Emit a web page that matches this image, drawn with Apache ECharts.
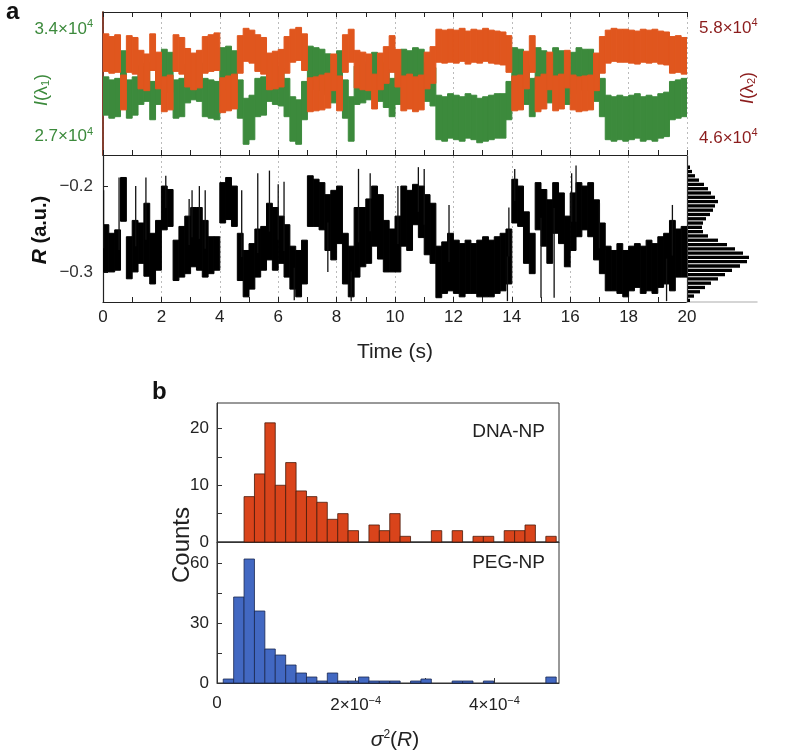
<!DOCTYPE html>
<html>
<head>
<meta charset="utf-8">
<script src="https://cdn.jsdelivr.net/npm/echarts@6/dist/echarts.min.js"></script>
<style>html,body{margin:0;padding:0;background:#fff}#main{width:786px;height:755px}</style>
</head>
<body>
<div id="main"></div>
<script>
// time traces, one value pair per 0.2 s bin (band top / band bottom)
var binStep = 0.2;
var rHi = [
-0.245,-0.255,-0.251,-0.190,-0.259,-0.240,-0.243,-0.220,-0.255,-0.240,
-0.200,-0.204,-0.263,-0.247,-0.235,-0.225,-0.225,-0.240,-0.259,-0.259,
-0.196,-0.190,-0.200,-0.255,-0.275,-0.267,-0.250,-0.247,-0.220,-0.225,
-0.235,-0.245,-0.270,-0.275,-0.263,-0.188,-0.192,-0.196,-0.210,-0.205,
-0.200,-0.255,-0.270,-0.225,-0.225,-0.215,-0.200,-0.210,-0.240,-0.250,
-0.235,-0.200,-0.205,-0.198,-0.200,-0.210,-0.220,-0.270,-0.265,-0.255,
-0.263,-0.267,-0.263,-0.267,-0.263,-0.259,-0.263,-0.259,-0.255,-0.250,
-0.192,-0.200,-0.230,-0.255,-0.196,-0.204,-0.216,-0.196,-0.208,-0.235,
-0.208,-0.196,-0.200,-0.196,-0.216,-0.243,-0.270,-0.275,-0.267,-0.275,
-0.270,-0.267,-0.270,-0.263,-0.267,-0.259,-0.255,-0.240,-0.250,-0.247];
var rLo = [
-0.300,-0.300,-0.298,-0.241,-0.308,-0.300,-0.290,-0.305,-0.314,-0.298,
-0.251,-0.247,-0.310,-0.306,-0.302,-0.294,-0.298,-0.306,-0.302,-0.298,
-0.243,-0.239,-0.247,-0.310,-0.329,-0.320,-0.306,-0.298,-0.286,-0.298,
-0.290,-0.306,-0.320,-0.329,-0.314,-0.247,-0.247,-0.251,-0.275,-0.286,
-0.267,-0.314,-0.329,-0.306,-0.294,-0.290,-0.270,-0.285,-0.300,-0.300,
-0.300,-0.270,-0.275,-0.245,-0.260,-0.280,-0.290,-0.330,-0.325,-0.322,
-0.325,-0.329,-0.325,-0.325,-0.329,-0.329,-0.329,-0.325,-0.322,-0.314,
-0.243,-0.247,-0.290,-0.302,-0.251,-0.270,-0.290,-0.255,-0.267,-0.294,
-0.275,-0.259,-0.251,-0.259,-0.286,-0.302,-0.322,-0.322,-0.325,-0.329,
-0.322,-0.318,-0.325,-0.322,-0.325,-0.318,-0.314,-0.322,-0.306,-0.306];
var rSpikes = [
[0.02,-0.205],[0.55,-0.19],[1.12,-0.2],[1.47,-0.19],[2.15,-0.188],[2.95,-0.215],
[3.05,-0.205],[3.3,-0.2],[3.5,-0.205],[4.75,-0.205],[5.3,-0.185],[5.7,-0.182],
[6.0,-0.198],[6.2,-0.195],[6.55,-0.333],[7.7,-0.3],[8.5,-0.334],[8.75,-0.18],
[9.15,-0.185],[10.1,-0.2],[10.8,-0.178],[11.0,-0.18],[11.85,-0.222],[13.9,-0.225],
[14.1,-0.18],[15.0,-0.33],[15.45,-0.33],[16.2,-0.176],[16.05,-0.185],[17.0,-0.22],
[19.5,-0.222],[19.3,-0.334],[13.85,-0.334]];
var oHi = [
57400,57100,57300,52900,57200,57000,55600,55200,57400,55400,
52700,52900,57300,57000,55800,55300,55600,57100,57300,57500,
52600,52800,53000,57200,58000,57800,57300,57000,55300,55500,
55700,57100,57900,58100,57400,52600,52700,52900,53100,55200,
52800,57300,57900,55600,55400,55200,53000,55300,56000,57200,
55700,52800,53000,52700,52900,55400,56000,57900,57800,57900,
57800,58000,57700,57900,57800,58000,57800,57700,57600,57200,
52800,52900,55500,57200,52700,53000,55400,52800,53000,55600,
52900,52700,52800,52900,55300,57100,57800,58000,57900,57900,
57800,57700,57900,57800,57900,57700,57600,57100,57200,57000];
var oLo = [
53300,53100,53200,49100,53200,53000,51400,51200,53400,51400,
48900,49100,53300,53000,51600,51300,51500,53100,53300,53400,
48800,49000,49200,53100,54400,54200,53300,53000,51300,51400,
51600,53100,54300,54500,53400,48900,49000,49100,49300,51200,
49000,53200,54300,51500,51300,51200,49200,51300,52000,53200,
51600,49000,49200,48900,49100,51400,52000,54300,54200,54300,
54200,54400,54100,54300,54200,54400,54200,54100,54000,53200,
49000,49100,51400,53200,48900,49200,51300,49000,49200,51500,
49100,48900,49000,49100,51200,53100,54200,54400,54300,54300,
54200,54100,54300,54200,54300,54100,54000,53100,53200,53000];
var gHi = [
30900,30700,30800,32600,30700,30900,31600,31800,30600,31600,
32700,32500,30700,30800,31700,31900,31800,30800,30700,30600,
32800,32900,32600,30700,29500,29700,30800,30900,31800,31600,
31500,30800,29600,29400,30600,32900,32800,32700,32400,31700,
32600,30700,29600,31600,31700,31900,32500,31800,31400,30800,
31600,32700,32600,32800,32700,31800,31500,29700,29600,29800,
29700,29600,29800,29700,29500,29600,29700,29800,29800,30600,
32800,32700,31600,30800,32800,32600,31700,32800,32600,31600,
32500,32800,32700,32700,31800,30800,29700,29600,29700,29600,
29700,29800,29600,29700,29600,29800,29900,30600,30700,30800];
var gLo = [
28400,28200,28300,30000,28200,28400,29100,29300,28100,29100,
30000,29900,28200,28300,29200,29400,29300,28300,28200,28100,
30100,30200,29900,28200,26500,26800,28300,28400,29300,29100,
29000,28300,26700,26500,28100,30200,30100,30000,29700,29200,
29900,28200,26700,29100,29200,29400,29800,29300,28900,28300,
29100,30000,29900,30100,30000,29300,29000,26800,26700,26900,
26800,26700,26900,26800,26600,26700,26800,26900,26900,28100,
30100,30000,29100,28300,30100,29900,29200,30100,29900,29100,
29800,30100,30000,30000,29300,28300,26800,26700,26800,26700,
26800,26900,26700,26800,26700,26900,27000,28100,28200,28300];

// R histogram (bins of 0.005 from -0.335, bottom to top)
var rHistStart = -0.335, rHistStep = 0.005;
var rHistCounts = [2,6,12,17,23,30,37,44,52,59,61,55,47,39,30,20,15,14,15,18,22,25,27,30,27,23,20,16,11,7,4,2];

// panel b histograms
var varStart = 0.9e-5, varStep = 1.5e-5;
var dnaCounts = [0,0,8,12,21,10,14,9,8,7,4,5,2,0,3,2,5,1,0,0,2,0,2,0,1,1,0,2,2,3,0,1];
var pegCounts = [2,43,62,36,17,14,9,5,3,1,5,1,1,3,1,1,1,0,1,2,0,0,1,1,0,1,0,0,0,0,0,3];

var font = '"Liberation Sans", Arial, sans-serif';
var cGreen = '#3c8a3c', cOrange = '#e0561e', cRed = '#8b1c1c';

function bandData(hi, lo) {
    return hi.map(function (h, i) { return [i * binStep, lo[i], h]; });
}
function bandItem(color) {
    return function (params, api) {
        var t = api.value(0);
        var p0 = api.coord([t, api.value(2)]);
        var p1 = api.coord([t + binStep, api.value(1)]);
        return {type: 'rect', shape: {x: p0[0], y: p0[1], width: p1[0] - p0[0], height: p1[1] - p0[1]},
            style: {fill: color, stroke: color, lineWidth: 1}};
    };
}
function spikeItem(params, api) {
    var t = api.value(0);
    var i = Math.min(rHi.length - 1, Math.floor(t / binStep));
    var a = api.coord([t, api.value(1)]);
    var b = api.coord([t, (rHi[i] + rLo[i]) / 2]);
    return {type: 'line', shape: {x1: a[0], y1: a[1], x2: b[0], y2: b[1]}, style: {stroke: '#111', lineWidth: 1.3}};
}
function histItem(fill, stroke) {
    return function (params, api) {
        var x0 = api.value(0), n = api.value(1);
        if (!n) return null;
        var p0 = api.coord([x0, n]);
        var p1 = api.coord([x0 + varStep, 0]);
        return {type: 'rect', shape: {x: p0[0], y: p0[1], width: p1[0] - p0[0], height: p1[1] - p0[1]},
            style: {fill: fill, stroke: stroke, lineWidth: 0.8}};
    };
}
function rHistItem(params, api) {
    var y0 = api.value(0), n = api.value(1);
    var p0 = api.coord([0, y0 + rHistStep]);
    var p1 = api.coord([n, y0]);
    return {type: 'rect', shape: {x: p0[0] + 1, y: p0[1] + 1, width: p1[0] - p0[0], height: p1[1] - p0[1] - 1},
        style: {fill: '#000'}};
}
function sci(exp) {
    return function (v) {
        if (v === 0) return '0';
        var m = v / Math.pow(10, exp);
        return (exp > 0 ? m.toFixed(1) : m.toFixed(0)) + '×10{s|' + (exp < 0 ? '−' + (-exp) : exp) + '}';
    };
}

var timeAxisBase = {
    type: 'value', min: 0, max: 20, interval: 2,
    axisLine: {show: true, lineStyle: {color: '#222', width: 1.2}},
    axisTick: {show: true, inside: true, length: 5, lineStyle: {color: '#222'}},
    minorTick: {show: true, splitNumber: 2, length: 5, lineStyle: {color: '#222'}},
    axisLabel: {show: false},
    splitLine: {show: false}
};

var myChart = echarts.init(document.getElementById('main'));
var option = {
    animation: false,
    textStyle: {fontFamily: font},
    grid: [
        {left: 103, top: 12, width: 584, height: 143},
        {left: 103, top: 156, width: 584, height: 146},
        {left: 687, top: 156, width: 70, height: 146},
        {left: 217, top: 403, width: 342, height: 139, show: true, borderColor: '#333', borderWidth: 1},
        {left: 217, top: 542, width: 342, height: 141, show: true, borderColor: '#333', borderWidth: 1}
    ],
    xAxis: [
        Object.assign({}, timeAxisBase, {gridIndex: 0, position: 'bottom',
            splitLine: {show: true, lineStyle: {color: '#bbb', type: [2, 3], width: 1}}}),
        Object.assign({}, timeAxisBase, {gridIndex: 0, position: 'top'}),
        Object.assign({}, timeAxisBase, {gridIndex: 1, position: 'bottom',
            axisLabel: {show: true, fontSize: 17, color: '#222', margin: 7},
            splitLine: {show: true, lineStyle: {color: '#bbb', type: [2, 3], width: 1}}}),
        {type: 'value', gridIndex: 2, min: 0, max: 70,
            axisLine: {show: true, lineStyle: {color: '#c8c8c8', width: 1.5}},
            axisTick: {show: false}, axisLabel: {show: false}, splitLine: {show: false}},
        {type: 'value', gridIndex: 3, min: 0, max: 4.93e-4,
            axisLine: {show: true, onZero: false, lineStyle: {color: '#333'}},
            axisTick: {show: true, inside: true, length: 5, customValues: [2.5e-4], lineStyle: {color: '#333'}},
            axisLabel: {show: false}, splitLine: {show: false}},
        {type: 'value', gridIndex: 4, min: 0, max: 4.93e-4,
            axisLine: {show: true, onZero: false, lineStyle: {color: '#333'}},
            axisTick: {show: true, inside: true, length: 5, customValues: [0, 1e-4, 2e-4, 3e-4, 4e-4], lineStyle: {color: '#333'}},
            axisLabel: {show: true, fontSize: 17, color: '#222', margin: 12, customValues: [0, 2e-4, 4e-4],
                formatter: sci(-4), rich: {s: {fontSize: 11, padding: [0, 0, 10, 0], color: '#222'}}},
            splitLine: {show: false}}
    ],
    yAxis: [
        {type: 'value', gridIndex: 0, position: 'left', min: 25800, max: 35130,
            axisLine: {show: true, lineStyle: {color: cGreen, width: 1.5}},
            axisTick: {show: false}, splitLine: {show: false},
            axisLabel: {show: true, customValues: [27000, 34000], formatter: sci(4), fontSize: 17, color: cGreen, margin: 10,
                rich: {s: {fontSize: 11, padding: [0, 0, 10, 0], color: cGreen}}}},
        {type: 'value', gridIndex: 0, position: 'right', min: 44180, max: 59780,
            axisLine: {show: true, lineStyle: {color: cRed, width: 1.5}},
            axisTick: {show: false}, splitLine: {show: false},
            axisLabel: {show: true, customValues: [46000, 58000], formatter: sci(4), fontSize: 17, color: cRed, margin: 12,
                rich: {s: {fontSize: 11, padding: [0, 0, 10, 0], color: cRed}}}},
        {type: 'value', gridIndex: 1, min: -0.335, max: -0.165,
            axisLine: {show: true, lineStyle: {color: '#222', width: 1.2}},
            axisTick: {show: true, inside: true, length: 5, customValues: [-0.3, -0.2]},
            splitLine: {show: false},
            axisLabel: {show: true, customValues: [-0.3, -0.2], fontSize: 17, color: '#333', margin: 10,
                formatter: function (v) { return '−' + Math.abs(v).toFixed(1); }}},
        {type: 'value', gridIndex: 2, min: -0.335, max: -0.165,
            axisLine: {show: true, lineStyle: {color: '#333', width: 1.2}},
            axisTick: {show: false}, axisLabel: {show: false}, splitLine: {show: false}},
        {type: 'value', gridIndex: 3, min: 0, max: 24.5,
            axisLine: {show: true, lineStyle: {color: '#333'}},
            axisTick: {show: true, inside: true, length: 5, customValues: [0, 5, 10, 15, 20], lineStyle: {color: '#333'}},
            axisLabel: {show: true, customValues: [0, 10, 20], fontSize: 17, color: '#222', margin: 8},
            splitLine: {show: false}},
        {type: 'value', gridIndex: 4, min: 0, max: 70.5,
            axisLine: {show: true, lineStyle: {color: '#333'}},
            axisTick: {show: true, inside: true, length: 5, customValues: [0, 15, 30, 45, 60], lineStyle: {color: '#333'}},
            axisLabel: {show: true, customValues: [0, 30, 60], fontSize: 17, color: '#222', margin: 8},
            splitLine: {show: false}}
    ],
    series: [
        {type: 'custom', name: 'I(λ1)', xAxisIndex: 0, yAxisIndex: 0, data: bandData(gHi, gLo),
            encode: {x: 0, y: [1, 2]}, renderItem: bandItem(cGreen), clip: true},
        {type: 'custom', name: 'I(λ2)', xAxisIndex: 0, yAxisIndex: 1, data: bandData(oHi, oLo),
            encode: {x: 0, y: [1, 2]}, renderItem: bandItem(cOrange), clip: true},
        {type: 'custom', name: 'R', xAxisIndex: 2, yAxisIndex: 2, data: bandData(rHi, rLo),
            encode: {x: 0, y: [1, 2]}, renderItem: bandItem('#000'), clip: true},
        {type: 'custom', name: 'R spikes', xAxisIndex: 2, yAxisIndex: 2, data: rSpikes,
            encode: {x: 0, y: 1}, renderItem: spikeItem, clip: true},
        {type: 'custom', name: 'R hist', xAxisIndex: 3, yAxisIndex: 3,
            data: rHistCounts.map(function (n, i) { return [rHistStart + i * rHistStep, n]; }),
            encode: {x: 1, y: 0}, renderItem: rHistItem},
        {type: 'custom', name: 'DNA-NP', xAxisIndex: 4, yAxisIndex: 4,
            data: dnaCounts.map(function (n, i) { return [varStart + i * varStep, n]; }),
            encode: {x: 0, y: 1}, renderItem: histItem('#d9441b', '#4a1a0a')},
        {type: 'custom', name: 'PEG-NP', xAxisIndex: 5, yAxisIndex: 5,
            data: pegCounts.map(function (n, i) { return [varStart + i * varStep, n]; }),
            encode: {x: 0, y: 1}, renderItem: histItem('#4268c2', '#1a2850')}
    ],
    graphic: [
        {type: 'text', left: 6, top: 0, style: {text: 'a', font: 'bold 24px ' + font, fill: '#111'}},
        {type: 'text', left: 152, top: 380, style: {text: 'b', font: 'bold 24px ' + font, fill: '#111'}},
        {type: 'text', x: 42, y: 90, rotation: Math.PI / 2,
            style: {text: '{i|I}(λ{s|1})', align: 'center', verticalAlign: 'middle', fill: cGreen, font: '18px ' + font,
                rich: {i: {fontStyle: 'italic', fontSize: 18, fill: cGreen, fontFamily: font}, s: {fontSize: 11, verticalAlign: 'bottom', padding: [6, 0, 0, 0], fill: cGreen}}}},
        {type: 'text', x: 748, y: 88, rotation: Math.PI / 2,
            style: {text: '{i|I}(λ{s|2})', align: 'center', verticalAlign: 'middle', fill: cRed, font: '18px ' + font,
                rich: {i: {fontStyle: 'italic', fontSize: 18, fill: cRed, fontFamily: font}, s: {fontSize: 11, verticalAlign: 'bottom', padding: [6, 0, 0, 0], fill: cRed}}}},
        {type: 'text', x: 40, y: 230, rotation: Math.PI / 2,
            style: {text: '{i|R} (a.u.)', align: 'center', verticalAlign: 'middle', fill: '#111', font: 'bold 20px ' + font,
                rich: {i: {fontStyle: 'italic', fontWeight: 'bold', fontSize: 21, fill: '#111', fontFamily: font}}}},
        {type: 'text', x: 395, y: 352, style: {text: 'Time (s)', align: 'center', verticalAlign: 'middle', fill: '#222', font: '21px ' + font}},
        {type: 'text', x: 182, y: 545, rotation: Math.PI / 2,
            style: {text: 'Counts', align: 'center', verticalAlign: 'middle', fill: '#222', font: '24px ' + font}},
        {type: 'text', x: 395, y: 740,
            style: {text: '{i|σ}{s|2}({i|R})', align: 'center', verticalAlign: 'middle', fill: '#222', font: '21px ' + font,
                rich: {i: {fontStyle: 'italic', fontSize: 21, fill: '#222', fontFamily: font}, s: {fontSize: 12, padding: [0, 0, 10, 0], fill: '#222'}}}},
        {type: 'text', x: 545, y: 432, style: {text: 'DNA-NP', align: 'right', verticalAlign: 'middle', fill: '#222', font: '19px ' + font}},
        {type: 'text', x: 545, y: 563, style: {text: 'PEG-NP', align: 'right', verticalAlign: 'middle', fill: '#222', font: '19px ' + font}}
    ]
};
myChart.setOption(option);
</script>
</body>
</html>
